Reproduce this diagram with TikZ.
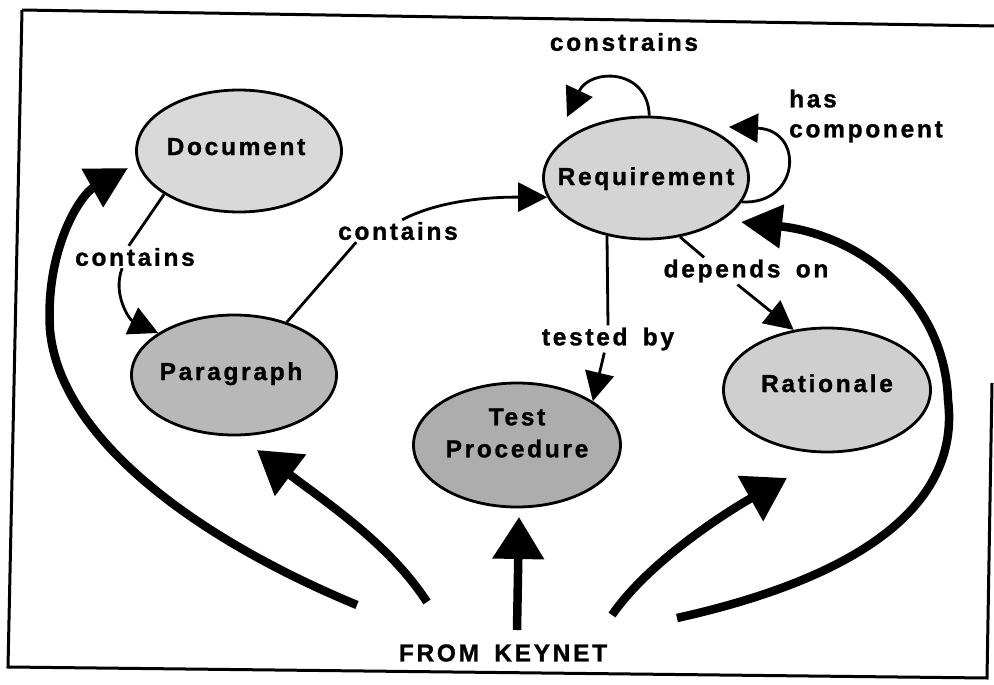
\documentclass[tikz,border=0pt]{standalone}
\usepackage{fontspec}
\setmainfont{Liberation Sans}[LetterSpace=11,WordSpace=1.6,BoldFeatures={FakeBold=1.2}]
\usetikzlibrary{arrows.meta,shapes.geometric}
\begin{document}
\begin{tikzpicture}[x=1pt,y=-1pt,
  ent/.style={ellipse,draw,line width=2.8pt,inner sep=0pt,minimum width=205pt,minimum height=122pt},
  etext/.style={font=\fontsize{24.5}{32}\selectfont\bfseries,inner sep=0pt},
  lab/.style={font=\fontsize{24.5}{30}\selectfont\bfseries,inner sep=2pt},
  conn/.style={line width=2.8pt},
  connarrow/.style={line width=2.8pt,-{Triangle[length=29pt,width=29pt]}},
  fat/.style={line width=8.5pt,-{Triangle[length=42pt,width=50pt]}},
  fatlong/.style={line width=8.5pt,-{Triangle[length=41pt,width=42pt]}},
  frameline/.style={line width=3pt}]
\useasboundingbox (0,0) rectangle (994,685);

% frame
\draw[frameline] (22,10) -- (994,26);
\draw[frameline] (22,10) -- (8,667) -- (987,678) -- (992,383);

% entities
\node[ent,fill=black!15,label={[etext,name=doct,text height=17pt,text depth=5pt,yshift=2pt,xshift=-3pt]center:Document}] (doc) at (239,151) {};
\node[ent,fill=black!28,minimum height=120pt,label={[etext,name=part,text height=17pt,text depth=5pt,yshift=1pt,xshift=-3pt]center:Paragraph}] (par) at (234,375) {};
\node[ent,fill=black!17,label={[etext,name=reqt,text height=17pt,text depth=5pt,yshift=-1pt]center:Requirement}] (req) at (646,178) {};
\node[ent,fill=black!32,minimum width=207pt,minimum height=124pt,label={[etext,name=testt,align=center,yshift=12pt]center:Test\\Procedure}] (test) at (517,445) {};
\node[ent,fill=black!19,minimum width=207pt,minimum height=124pt,label={[etext,name=ratt,text height=17pt,text depth=5pt,yshift=4pt]center:Rationale}] (rat) at (827,390) {};

% labels
\node[lab] (lc1) at (135,257) {contains};
\node[lab] (lc2) at (398,231) {contains};
\node[lab] (lcon) at (624,42) {constrains};
\node[lab,align=left,anchor=west] (lhas) at (787,116) {has\\component};
\node[lab] (ltest) at (608,339) {tested by};
\node[lab] (ldep) at (746,271) {depends on};
\node[lab] (lkey) at (503,653) {FROM KEYNET};

% free ends
\coordinate (conend) at (567,117);
\coordinate (hasend) at (729,127);
\coordinate (k1) at (357,605);
\coordinate (k2) at (427,602);
\coordinate (k3) at (517,630);
\coordinate (k4) at (612,615);
\coordinate (k5) at (677,618);
\coordinate (t1) at (128,168);
\coordinate (t2) at (257,450);
\coordinate (t3) at (519,517);
\coordinate (t4) at (787,478);
\coordinate (t5) at (741,222);

% thin connectors
\draw[conn] (doc.210) -- (lc1.119);
\draw[connarrow] (lc1.221) .. controls (112,295) and (130,320) .. (par.151);
\draw[conn] (par.45) -- (lc2.195);
\draw[connarrow] (lc2.70) .. controls (440,200) and (490,197) .. (req.191);
\draw[connarrow] (req.87) .. controls (648,68) and (590,68) .. (conend);
\draw[connarrow] (req.-14) .. controls (800,205) and (805,130) .. (hasend);
\draw[conn] (req.236) -- (ltest.north);
\draw[connarrow] (ltest.-105) -- (test.30);
\draw[conn] (req.-60) -- (ldep.162);
\draw[connarrow] (ldep.238) -- (rat.119);

% thick arrows from KEYNET
\draw[fatlong] (k1) .. controls (200,540) and (60,440) .. (50,330) .. controls (45,250) and (80,195) .. (t1);
\draw[fat] (k2) .. controls (390,545) and (330,505) .. (t2);
\draw[fat] (k3) -- (t3);
\draw[fat] (k4) .. controls (650,560) and (730,510) .. (t4);
\draw[fatlong] (k5) .. controls (870,575) and (960,500) .. (948,400) .. controls (945,300) and (860,235) .. (t5);
\end{tikzpicture}
\end{document}
